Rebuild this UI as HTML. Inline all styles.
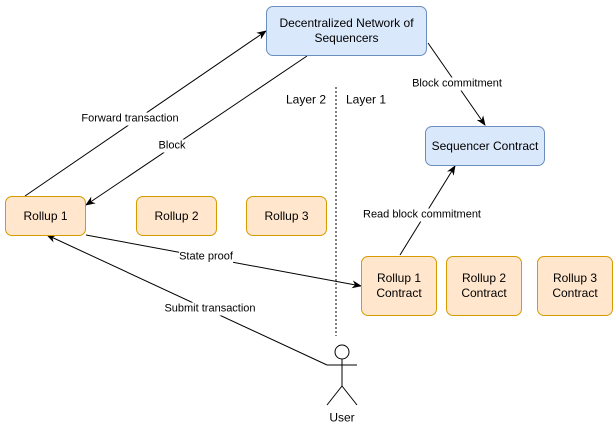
<!DOCTYPE html>
<html><head><style>
body{margin:0;background:#fff;}
.b{position:absolute;box-sizing:border-box;border-radius:7px;display:flex;align-items:center;justify-content:center;text-align:center;font:12px "Liberation Sans",sans-serif;color:#000;line-height:15px;}
.o{background:#ffe6cc;border:1px solid #d79b00;}
.bl{background:#dae8fc;border:1px solid #6c8ebf;}
.l{position:absolute;font:11px "Liberation Sans",sans-serif;background:#fff;transform:translate(-50%,-50%);white-space:nowrap;line-height:13px;}
</style></head><body>
<div style="position:relative;width:616px;height:432px;overflow:hidden">
<svg width="616" height="432" style="position:absolute;left:0;top:0">
<defs><marker id="a" markerWidth="10" markerHeight="8" refX="9" refY="4" orient="auto" markerUnits="userSpaceOnUse"><path d="M0,0 L10,4 L0,8 L3,4 z" fill="#000"/></marker></defs>
<g stroke="#000" stroke-width="1" fill="none">
<line x1="336" y1="87" x2="336" y2="336" stroke-dasharray="2,2"/>
<line x1="25" y1="196" x2="266" y2="31" marker-end="url(#a)"/>
<line x1="307" y1="56" x2="86" y2="205" marker-end="url(#a)"/>
<line x1="428" y1="43" x2="485" y2="125" marker-end="url(#a)"/>
<line x1="400" y1="255" x2="455" y2="166" marker-end="url(#a)"/>
<line x1="86" y1="235" x2="361" y2="286" marker-end="url(#a)"/>
<line x1="327" y1="365" x2="47" y2="235" marker-end="url(#a)"/>
<circle cx="342" cy="352" r="7" fill="#fff"/>
<line x1="342" y1="359" x2="342" y2="386"/>
<line x1="327" y1="365" x2="357" y2="365"/>
<line x1="342" y1="386" x2="327" y2="405"/>
<line x1="342" y1="386" x2="357" y2="405"/>
</g>
</svg>
<div class="b bl" style="left:266px;top:6px;width:161px;height:50px">Decentralized Network of<br>Sequencers</div>
<div class="b bl" style="left:425px;top:126px;width:120px;height:40px">Sequencer Contract</div>
<div class="b o" style="left:5px;top:196px;width:81px;height:40px">Rollup 1</div>
<div class="b o" style="left:136px;top:196px;width:81px;height:40px">Rollup 2</div>
<div class="b o" style="left:246px;top:196px;width:81px;height:40px">Rollup 3</div>
<div class="b o" style="left:361px;top:256px;width:76px;height:60px">Rollup 1<br>Contract</div>
<div class="b o" style="left:446px;top:256px;width:76px;height:60px">Rollup 2<br>Contract</div>
<div class="b o" style="left:537px;top:256px;width:76px;height:60px">Rollup 3<br>Contract</div>
<div class="l" style="left:130px;top:119px">Forward transaction</div>
<div class="l" style="left:172px;top:146px">Block</div>
<div class="l" style="left:457px;top:84px">Block commitment</div>
<div class="l" style="left:422px;top:215px">Read block commitment</div>
<div class="l" style="left:206px;top:257px">State proof</div>
<div class="l" style="left:210px;top:309px">Submit transaction</div>
<div class="l" style="left:306px;top:100px;font-size:12px">Layer 2</div>
<div class="l" style="left:366px;top:100px;font-size:12px">Layer 1</div>
<div class="l" style="left:342px;top:418px;font-size:12px">User</div>
</div>
</body></html>
